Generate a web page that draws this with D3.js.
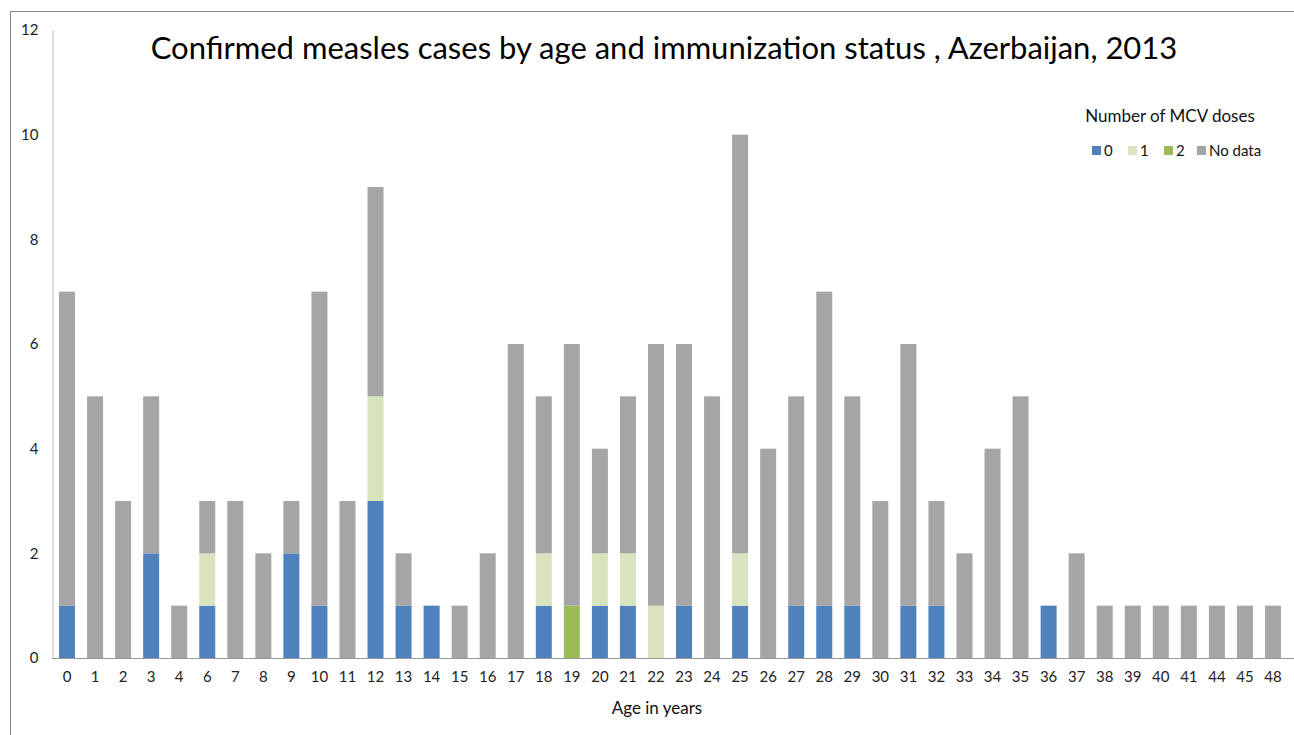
<!DOCTYPE html>
<html><head><meta charset="utf-8">
<script src="https://cdn.jsdelivr.net/npm/d3@7"></script>
<style>body{margin:0;background:#fff}svg{display:block}</style>
</head><body>
<svg id="c" width="1294" height="735"></svg>
<script>
const ages = ["0","1","2","3","4","6","7","8","9","10","11","12","13","14","15","16","17","18","19","20","21","22","23","24","25","26","27","28","29","30","31","32","33","34","35","36","37","38","39","40","41","44","45","48"];
const dose0  = [1,0,0,2,0,1,0,0,2,1,0,3,1,1,0,0,0,1,0,1,1,0,1,0,1,0,1,1,1,0,1,1,0,0,0,1,0,0,0,0,0,0,0,0];
const dose1  = [0,0,0,0,0,1,0,0,0,0,0,2,0,0,0,0,0,1,0,1,1,1,0,0,1,0,0,0,0,0,0,0,0,0,0,0,0,0,0,0,0,0,0,0];
const dose2  = [0,0,0,0,0,0,0,0,0,0,0,0,0,0,0,0,0,0,1,0,0,0,0,0,0,0,0,0,0,0,0,0,0,0,0,0,0,0,0,0,0,0,0,0];
const noData = [6,5,3,3,1,1,3,2,1,6,3,4,1,0,1,2,6,3,5,2,3,5,5,5,8,4,4,6,4,3,5,2,2,4,5,0,2,1,1,1,1,1,1,1];
const seriesNames = ["0","1","2","No data"];
const yTicks = [0,2,4,6,8,10,12];
const colors = ["#4F81BD","#D7E4BD","#9BBB59","#A5A5A5"];

const svg = d3.select("#c");
const font = "Lato, sans-serif";
svg.append("rect").attr("x",10.5).attr("y",11.5).attr("width",1300).attr("height",740)
  .attr("fill","none").attr("stroke","#888").attr("stroke-width",1);

const x = d3.scaleBand().domain(ages).range([53,1287]).paddingInner(0.43).paddingOuter(0.215);
const y = d3.scaleLinear().domain([0,12]).range([658,30]);

const rows = ages.map((a,i)=>({age:a, s0:dose0[i], s1:dose1[i], s2:dose2[i], s3:noData[i]}));
const stack = d3.stack().keys(["s0","s1","s2","s3"])(rows);

svg.append("g").selectAll("g").data(stack).join("g").attr("fill",(d,i)=>colors[i])
  .selectAll("rect").data(d=>d).join("rect")
  .attr("x",d=>x(d.data.age)).attr("width",x.bandwidth())
  .attr("y",d=>y(d[1])).attr("height",d=>y(d[0])-y(d[1]));

const ya = svg.append("g").attr("transform","translate(52.5,0)")
  .call(d3.axisLeft(y).tickValues(yTicks).tickSize(0).tickPadding(14));
ya.select(".domain").attr("stroke","#bdbdbd");
ya.selectAll("text").attr("font-family",font).attr("font-size",15).attr("fill","#222");

const xa = svg.append("g").attr("transform","translate(0,658.5)")
  .call(d3.axisBottom(x).tickSize(0).tickPadding(13));
xa.select(".domain").attr("stroke","#999").attr("d","M52,0H1294");
xa.selectAll("text").attr("font-family",font).attr("font-size",15).attr("fill","#222");

svg.append("text").attr("x",657).attr("y",714).attr("text-anchor","middle")
  .attr("font-family",font).attr("font-size",17).attr("fill","#111").text("Age in years");

svg.append("text").attr("x",664).attr("y",59).attr("text-anchor","middle")
  .attr("font-family",font).attr("font-size",31).attr("fill","#000")
  .text("Confirmed measles cases by age and immunization status , Azerbaijan, 2013");

svg.append("text").attr("x",1170).attr("y",122).attr("text-anchor","middle")
  .attr("font-family",font).attr("font-size",17).attr("fill","#111").text("Number of MCV doses");
const lx = [1092,1128,1164,1197];
const lg = svg.append("g").selectAll("g").data(seriesNames).join("g")
  .attr("transform",(d,i)=>`translate(${lx[i]},146)`);
lg.append("rect").attr("width",9).attr("height",9).attr("fill",(d,i)=>colors[i]);
lg.append("text").attr("x",12).attr("y",10).attr("font-family",font).attr("font-size",15)
  .attr("fill","#111").text(d=>d);
</script>
</body></html>
